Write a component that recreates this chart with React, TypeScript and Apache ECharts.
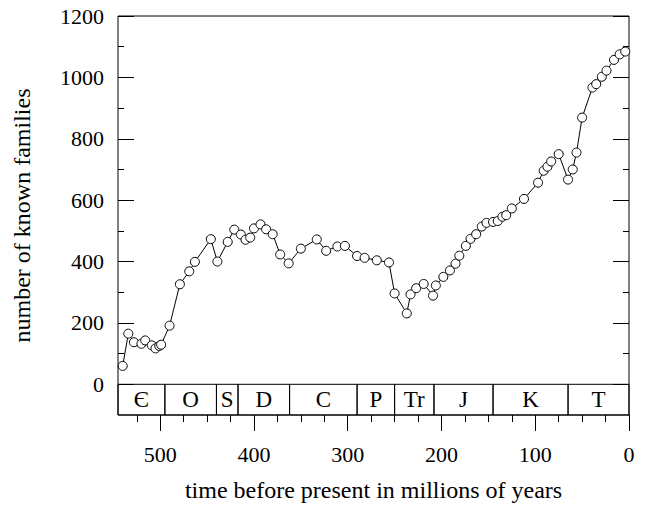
import React, { useEffect, useRef } from "react";
import * as echarts from "echarts";

const FONT = "Liberation Serif";
const FS = 22;
const FS_TITLE = 24;

// age (Ma before present) and number of known families
const ages = [540, 534, 528, 520, 516, 509, 505, 501, 499, 490, 479, 469, 463, 446, 439, 428, 421, 414, 409, 404, 400, 393, 387, 380, 372, 363, 350, 333, 323, 311, 303, 290, 282, 269, 256, 250, 237, 233, 227, 219, 209, 206, 198, 191, 185, 181, 174, 169, 163, 157, 152, 145, 140, 135, 131, 125, 112, 97, 91, 87, 83, 75, 65, 60, 56, 50, 39, 35, 29, 24, 16, 10, 4];
const families = [60, 165, 137, 132, 143, 127, 117, 125, 129, 191, 326, 368, 399, 473, 400, 464, 504, 488, 471, 478, 508, 521, 505, 489, 423, 394, 442, 472, 435, 449, 451, 418, 412, 404, 397, 296, 231, 293, 313, 327, 289, 322, 350, 371, 393, 419, 451, 474, 489, 514, 526, 529, 532, 546, 551, 573, 604, 657, 696, 709, 726, 750, 667, 700, 755, 869, 967, 978, 1002, 1022, 1057, 1075, 1084];

// geological periods
const periodNames = ["Є", "O", "S", "D", "C", "P", "Tr", "J", "K", "T"];
const periodBounds = [545, 495, 440, 417, 362, 290, 250, 208, 145, 65, 0];

const xMajor = [0, 100, 200, 300, 400, 500];
const xMinor = [25, 50, 75, 125, 150, 175, 225, 250, 275, 325, 350, 375, 425, 450, 475, 525];
const yMajor = [0, 200, 400, 600, 800, 1000, 1200];
const yMinor = [100, 300, 500, 700, 900, 1100];

const X_MIN = 0, X_MAX = 545, Y_MIN = -100, Y_MAX = 1200;

export default function App() {
  const ref = useRef<HTMLDivElement>(null);
  useEffect(() => {
    document.body.style.margin = "0";
    const chart = echarts.init(ref.current!, null, { renderer: "svg" });
    const black = "#000";
    const fmt = (v: number) => String(Math.round(v));
    const xBase = {
      type: "value" as const,
      min: X_MIN,
      max: X_MAX,
      inverse: true,
      position: "bottom" as const,
      axisLine: { show: false, onZero: false },
      splitLine: { show: false },
    };
    const yBase = {
      type: "value" as const,
      min: Y_MIN,
      max: Y_MAX,
      axisLine: { show: false, onZero: false },
      splitLine: { show: false },
    };
    const option: any = {
      animation: false,
      backgroundColor: "#fff",
      textStyle: { fontFamily: FONT },
      grid: {
        left: 118,
        right: 17,
        top: 16,
        bottom: 96,
        show: true,
        borderColor: black,
        borderWidth: 1,
        backgroundColor: "transparent",
      },
      xAxis: [
        {
          ...xBase,
          axisTick: { show: true, customValues: xMajor, length: 16, inside: false, lineStyle: { color: black, width: 1 } },
          axisLabel: { show: true, customValues: xMajor, formatter: fmt, margin: 28, color: black, fontSize: FS, fontFamily: FONT },
          name: "time before present in millions of years",
          nameLocation: "middle",
          nameGap: 63,
          nameTextStyle: { color: black, fontSize: FS_TITLE, fontFamily: FONT },
        },
        {
          ...xBase,
          axisTick: { show: true, customValues: xMinor, length: 7, inside: false, lineStyle: { color: black, width: 1 } },
          axisLabel: { show: false },
        },
      ],
      yAxis: [
        {
          ...yBase,
          position: "left",
          axisTick: { show: true, customValues: yMajor, length: 16, inside: true, lineStyle: { color: black, width: 1 } },
          axisLabel: { show: true, customValues: yMajor, formatter: fmt, margin: 14, color: black, fontSize: FS, fontFamily: FONT },
          name: "number of known families",
          nameLocation: "middle",
          nameGap: 84,
          nameTextStyle: { color: black, fontSize: FS_TITLE, fontFamily: FONT },
        },
        {
          ...yBase,
          position: "left",
          axisTick: { show: true, customValues: yMinor, length: 6, inside: true, lineStyle: { color: black, width: 1 } },
          axisLabel: { show: false },
        },
        {
          ...yBase,
          position: "right",
          axisTick: { show: true, customValues: yMajor, length: 16, inside: true, lineStyle: { color: black, width: 1 } },
          axisLabel: { show: false },
        },
        {
          ...yBase,
          position: "right",
          axisTick: { show: true, customValues: yMinor, length: 6, inside: true, lineStyle: { color: black, width: 1 } },
          axisLabel: { show: false },
        },
      ],
      series: [
        {
          type: "line",
          xAxisIndex: 0,
          yAxisIndex: 0,
          data: ages.map((a, i) => [a, families[i]]),
          symbol: "circle",
          symbolSize: 9,
          showSymbol: true,
          showAllSymbol: true,
          itemStyle: { color: "#fff", borderColor: black, borderWidth: 1 },
          lineStyle: { color: black, width: 1 },
          emphasis: { disabled: true },
          markArea: {
            silent: true,
            itemStyle: { color: "transparent", borderColor: black, borderWidth: 1 },
            label: { show: true, position: "inside", color: black, fontSize: 23, fontFamily: FONT },
            data: periodNames.map((n, i) => [
              { name: n, xAxis: periodBounds[i], yAxis: Y_MIN },
              { xAxis: periodBounds[i + 1], yAxis: 0 },
            ]),
          },
        },
      ],
    };
    chart.setOption(option);
    return () => chart.dispose();
  }, []);
  return <div ref={ref} style={{ width: 646, height: 511 }} />;
}
